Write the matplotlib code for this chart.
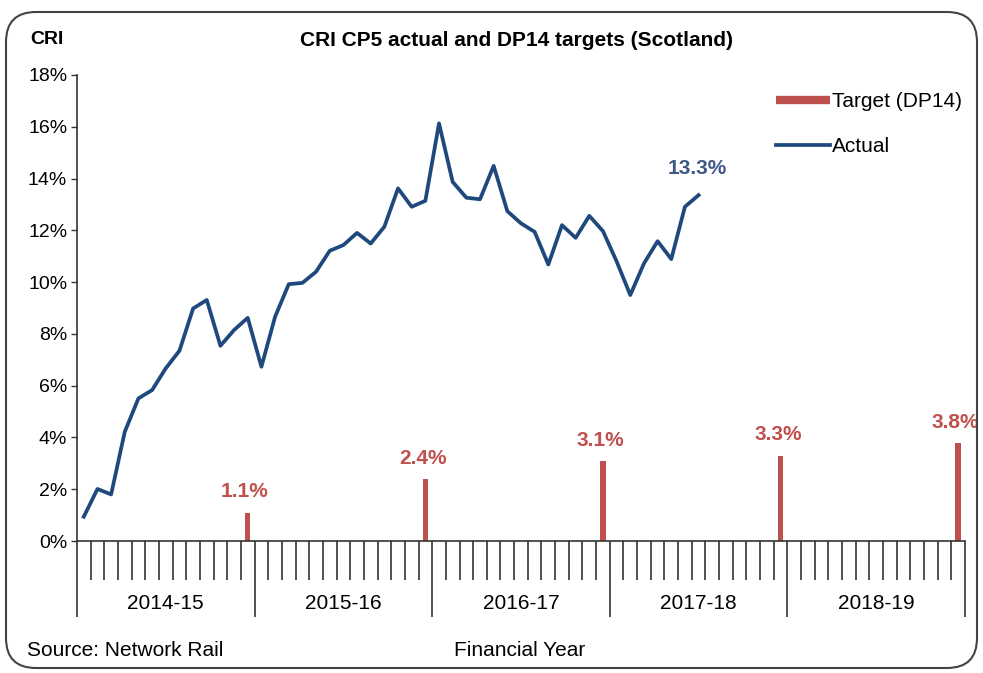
import matplotlib.pyplot as plt
from matplotlib.lines import Line2D
from matplotlib.patches import FancyBboxPatch
import matplotlib.ticker as mticker

plt.rcParams['font.family'] = ['Liberation Sans', 'DejaVu Sans']

# データ
years = ['2014-15', '2015-16', '2016-17', '2017-18', '2018-19']
periods_per_year = 13
actual = [0.94, 2.01, 1.80, 4.22, 5.51, 5.83, 6.67, 7.35, 8.98, 9.31,
          7.54, 8.15, 8.62, 6.73, 8.66, 9.92, 9.97, 10.40, 11.21, 11.43,
          11.90, 11.49, 12.14, 13.62, 12.91, 13.14, 16.13, 13.87, 13.26, 13.20,
          14.49, 12.74, 12.27, 11.94, 10.68, 12.20, 11.71, 12.56, 11.97, 10.80,
          9.50, 10.72, 11.58, 10.89, 12.91, 13.36]
target_idx = [12, 25, 38, 51, 64]
target = [1.1, 2.4, 3.1, 3.3, 3.8]
target_labels = ['1.1%', '2.4%', '3.1%', '3.3%', '3.8%']

red = '#c0504d'
blue = '#1f497d'
n = len(years) * periods_per_year

fig = plt.figure(figsize=(9.83, 6.73), dpi=100)
ax = fig.add_axes([0.0783, 0.1961, 0.9034, 0.6925])

# 目標値（棒）
ax.bar(target_idx, target, width=0.4, color=red, zorder=2)
for i, v, lab in zip(target_idx, target, target_labels):
    ax.annotate(lab, (i, v), xytext=(-2, 8), textcoords='offset points',
                ha='center', va='bottom', color=red, fontsize=15, fontweight='bold')

# 実績（線）
ax.plot(range(len(actual)), actual, color=blue, lw=2.7, zorder=3)
ax.annotate('13.3%', (len(actual) - 1, actual[-1]), xytext=(-1, 12),
            textcoords='offset points', ha='center', va='bottom',
            color='#3d5a86', fontsize=15, fontweight='bold')

ax.set_xlim(-0.5, n - 0.5)
ax.set_ylim(0, 18)
ax.set_yticks(range(0, 19, 2))
ax.yaxis.set_major_formatter(mticker.FuncFormatter(lambda v, p: f'{v:.0f}%'))
ax.tick_params(axis='y', labelsize=14, length=4, width=1, color='#333333', pad=3)

year_bounds = [k * periods_per_year - 0.5 for k in range(len(years) + 1)]
ax.set_xticks(year_bounds)
ax.set_xticklabels([])
ax.set_xticks([k - 0.5 for k in range(n + 1)], minor=True)
ax.tick_params(axis='x', which='major', length=55, width=1.2, color='#333333')
ax.tick_params(axis='x', which='minor', length=28, width=1.2, color='#333333')
for k, y in enumerate(years):
    ax.text(k * periods_per_year + 6, -0.133, y, transform=ax.get_xaxis_transform(),
            ha='center', va='center', fontsize=15)

for s in ['top', 'right']:
    ax.spines[s].set_visible(False)
for s in ['left', 'bottom']:
    ax.spines[s].set_color('#333333')
    ax.spines[s].set_linewidth(1.2)

handles = [Line2D([0], [0], color=red, lw=6, solid_capstyle='butt'),
           Line2D([0], [0], color=blue, lw=2.7)]
fig.legend(handles, ['Target (DP14)', 'Actual'], loc='upper left',
           bbox_to_anchor=(776 / 983, 1 - 92 / 673), frameon=False, fontsize=15,
           handlelength=2.6, handletextpad=0.1, labelspacing=1.25,
           borderpad=0, borderaxespad=0)

fig.text(30 / 983, 1 - 40 / 673, 'CRI', fontsize=14, fontweight='bold',
         ha='left', va='center')
fig.text(517 / 983, 1 - 40 / 673, 'CRI CP5 actual and DP14 targets (Scotland)',
         fontsize=15, fontweight='bold', ha='center', va='center')
fig.text(27 / 983, 1 - 651 / 673, 'Source: Network Rail', fontsize=15,
         ha='left', va='center')
fig.text(520 / 983, 1 - 651 / 673, 'Financial Year', fontsize=15,
         ha='center', va='center')

# 外枠（角丸）
border = FancyBboxPatch((0.06, 0.05), 9.71, 6.56, boxstyle='round,pad=0,rounding_size=0.3',
                        transform=fig.dpi_scale_trans, fill=False,
                        edgecolor='#444444', lw=1.5)
fig.patches.append(border)

fig.savefig('out.png', dpi=100)
